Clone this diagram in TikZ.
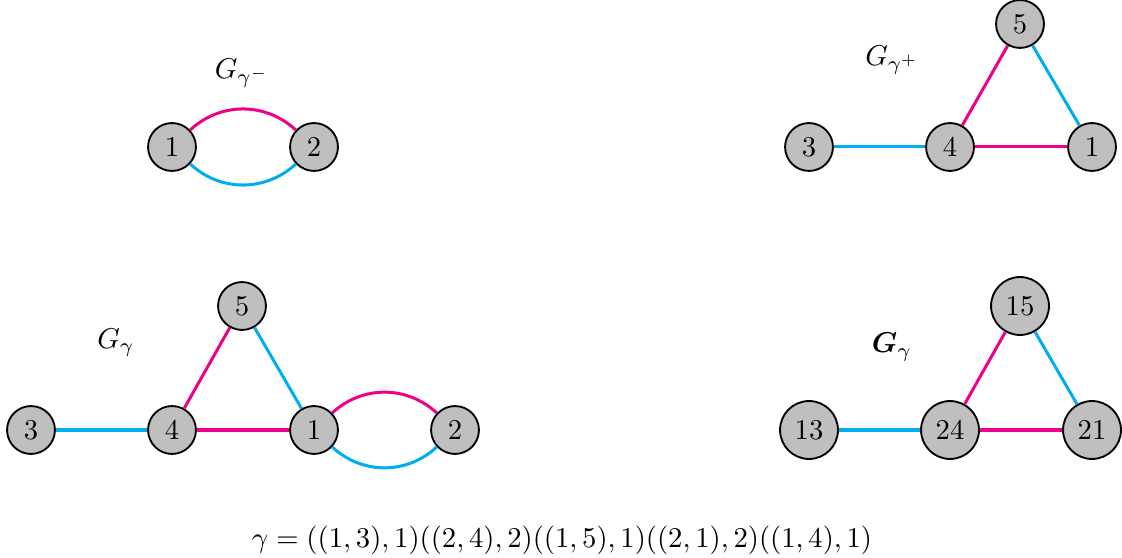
\documentclass[tikz,border=0pt]{standalone}
\usepackage{amsmath,bm}
\definecolor{edgemag}{cmyk}{0,1,0,0}
\definecolor{edgecyan}{cmyk}{1,0,0,0}
\begin{document}
\begin{tikzpicture}[x=0.3487pt,y=-0.3487pt,
  vtx/.style={circle,draw=black,fill=black!25,line width=0.65pt,minimum size=16.7pt,inner sep=0pt},
  bigvtx/.style={vtx,minimum size=20.2pt},
  magedge/.style={draw=edgemag,line width=1.05pt},
  cyanedge/.style={draw=edgecyan,line width=1.05pt}]
\useasboundingbox (0,0) rectangle (1122,558);
% top-left
\node[vtx] (a1) at (172,147) {1};
\node[vtx] (a2) at (314,147) {2};
\draw[magedge] (a1) to[bend left=43] (a2);
\draw[cyanedge] (a1) to[bend right=43] (a2);
\node (la) at (242,73) {$G_{\gamma^-}$};
% top-right
\node[vtx] (b5) at (1020,24) {5};
\node[vtx] (b3) at (809,147) {3};
\node[vtx] (b4) at (950,147) {4};
\node[vtx] (b1) at (1092,147) {1};
\draw[cyanedge] (b3) -- (b4);
\draw[magedge] (b4) -- (b1);
\draw[magedge] (b4) -- (b5);
\draw[cyanedge] (b5) -- (b1);
\node (lb) at (892,60) {$G_{\gamma^+}$};
% bottom-left
\node[vtx] (c5) at (242,306) {5};
\node[vtx] (c3) at (31,430) {3};
\node[vtx] (c4) at (172,430) {4};
\node[vtx] (c1) at (314,430) {1};
\node[vtx] (c2) at (455,430) {2};
\draw[cyanedge] (c3) -- (c4);
\draw[magedge] (c4) -- (c1);
\draw[magedge] (c4) -- (c5);
\draw[cyanedge] (c5) -- (c1);
\draw[magedge] (c1) to[bend left=43] (c2);
\draw[cyanedge] (c1) to[bend right=43] (c2);
\node (lc) at (116,343) {$G_{\gamma}$};
% bottom-right
\node[bigvtx] (d15) at (1020,306) {15};
\node[bigvtx] (d13) at (809,430) {13};
\node[bigvtx] (d24) at (950,430) {24};
\node[bigvtx] (d21) at (1092,430) {21};
\draw[cyanedge] (d13) -- (d24);
\draw[magedge] (d24) -- (d21);
\draw[magedge] (d24) -- (d15);
\draw[cyanedge] (d15) -- (d21);
\node (ld) at (892,347) {$\bm{G}_{\gamma}$};
% formula
\node (f) at (562,540) {$\gamma=((1,3),1)((2,4),2)((1,5),1)((2,1),2)((1,4),1)$};
\end{tikzpicture}
\end{document}
